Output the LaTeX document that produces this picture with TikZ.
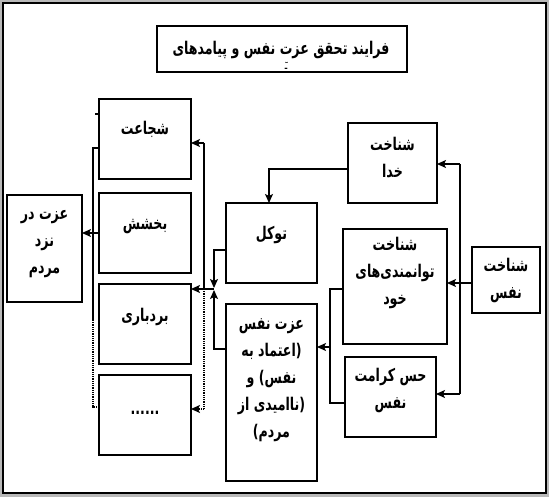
\documentclass[tikz,border=0pt]{standalone}
\usepackage{fontspec}
\usetikzlibrary{arrows.meta}
\TeXXeTstate=1
\newfontfamily\arfont[Script=Arabic,FakeStretch=0.72]{DejaVu Sans}
\newcommand{\ArL}[1]{\beginR #1\endR}
\tikzset{
  boxnode/.style={draw, line width=1.1pt, inner sep=0pt, outer sep=0pt, fill=white},
  txt/.style={inner sep=0pt, align=center, font=\arfont\bfseries\fontsize{17.5}{27}\selectfont},
  ln/.style={line width=1.3pt},
  arr/.style={line width=1.3pt, -{Stealth[length=9pt,width=8pt,inset=2pt]}},
  dot/.style={line width=1.3pt, dash pattern=on 1pt off 0.8pt},
}
\begin{document}
\begin{tikzpicture}[x=1pt,y=-1pt]
\useasboundingbox (0,0) rectangle (549,497);
\fill[gray!55] (0,0) rectangle (549,497);
\draw[line width=2pt, fill=white] (3,3.5) rectangle (545.5,493);
% boxes
\node[boxnode, minimum width=250, minimum height=46] (title) at (282,49) {};
\node[boxnode, minimum width=92, minimum height=80] (shoj) at (145,139) {};
\node[boxnode, minimum width=92, minimum height=80] (bakh) at (145,233) {};
\node[boxnode, minimum width=92, minimum height=80] (bord) at (145,324) {};
\node[boxnode, minimum width=92, minimum height=80] (etc) at (145,415) {};
\node[boxnode, minimum width=75, minimum height=107] (mardom) at (44.5,248.5) {};
\node[boxnode, minimum width=91, minimum height=80] (tavak) at (271.5,243) {};
\node[boxnode, minimum width=89, minimum height=80] (khoda) at (392.5,163) {};
\node[boxnode, minimum width=104, minimum height=115] (khod) at (395,286.5) {};
\node[boxnode, minimum width=91, minimum height=80] (keramat) at (390.5,397) {};
\node[boxnode, minimum width=91, minimum height=177] (ezn) at (271.5,392.5) {};
\node[boxnode, minimum width=68, minimum height=66] (nafs) at (506,280) {};
% texts
\node[txt] (titleT) at (281,50) {\ArL{فرایند تحقق عزت نفس و پیامدهای}};
\node[txt, font=\arfont\bfseries\fontsize{10}{10}\selectfont] (titleT2) at (286,66) {\ArL{ـٓ}};
\node[txt] (shojT) at (145,129) {\ArL{شجاعت}};
\node[txt] (bakhT) at (145,227) {\ArL{بخشش}};
\node[txt] (bordT) at (145,317) {\ArL{بردباری}};
\node[txt] (etcT) at (145,413) {......};
\node[txt] (mardomT) at (44.5,244) {\ArL{عزت در}\\\ArL{نزد}\\\ArL{مردم}};
\node[txt] (tavakT) at (271.5,235) {\ArL{توکل}};
\node[txt] (khodaT) at (392.5,157.5) {\ArL{شناخت}\\\ArL{خدا}};
\node[txt] (khodT) at (395,273) {\ArL{شناخت}\\\ArL{توانمندی‌های}\\\ArL{خود}};
\node[txt] (keramatT) at (390.5,390) {\ArL{حس کرامت}\\\ArL{نفس}};
\node[txt] (eznT) at (271.5,380) {\ArL{عزت نفس}\\\ArL{(اعتماد به}\\\ArL{نفس) و}\\\ArL{(ناامیدی از}\\\ArL{مردم)}};
\node[txt] (nafsT) at (506,280.5) {\ArL{شناخت}\\\ArL{نفس}};
% right bus
\coordinate (bT) at (460,164);
\coordinate (bM) at (460,283);
\coordinate (bB) at (460,394);
\draw[ln] (bT) -- (bB);
\draw[ln] (nafs.west |- bM) -- (bM);
\draw[arr] (bM) -- (bM -| khod.east);
\draw[arr] (bT) -- (bT -| khoda.east);
\draw[arr] (bB) -- (bB -| keramat.east);
% khoda -> tavakkol
\coordinate (k1) at (269,169);
\draw[arr] (khoda.west |- k1) -- (k1) -- (k1 |- tavak.north);
% khod, keramat -> ezn
\coordinate (m1) at (330,289);
\coordinate (m2) at (330,403);
\coordinate (m3) at (330,347);
\draw[ln] (khod.west |- m1) -- (m1) -- (m2) -- (m2 -| keramat.west);
\draw[arr] (m3) -- (m3 -| ezn.east);
% tavakkol, ezn -> junction
\coordinate (J) at (214,289);
\coordinate (t1) at (214,250);
\coordinate (e1) at (214,349);
\draw[arr] (tavak.west |- t1) -- (t1) -- ([yshift=1pt]J);
\draw[arr] (ezn.west |- e1) -- (e1) -- ([yshift=-1pt]J);
% left distribution bus
\coordinate (L0) at (204,289);
\coordinate (LT) at (204,143);
\coordinate (LB) at (204,409);
\draw[ln] (J) -- (L0);
\draw[arr] (L0) -- (L0 -| bord.east);
\draw[ln] (L0) -- (LT);
\draw[arr] (LT) -- (LT -| shoj.east);
\draw[dot] (L0) -- (LB);
\draw[dot, -{Stealth[length=9pt,width=8pt,inset=2pt]}] (LB) -- (LB -| etc.east);
% far left collector
\coordinate (cT) at (93,148);
\coordinate (cM) at (93,320);
\coordinate (cB) at (93,407);
\coordinate (tick) at (95,114);
\draw[ln] (cT -| shoj.west) -- (cT) -- (cM);
\draw[dot] (cM) -- (cB) -- (cB -| etc.west);
\draw[ln] (tick) -- (tick -| shoj.west);
\draw[arr] (bakh.west) -- (bakh.west -| mardom.east);
\end{tikzpicture}
\end{document}
